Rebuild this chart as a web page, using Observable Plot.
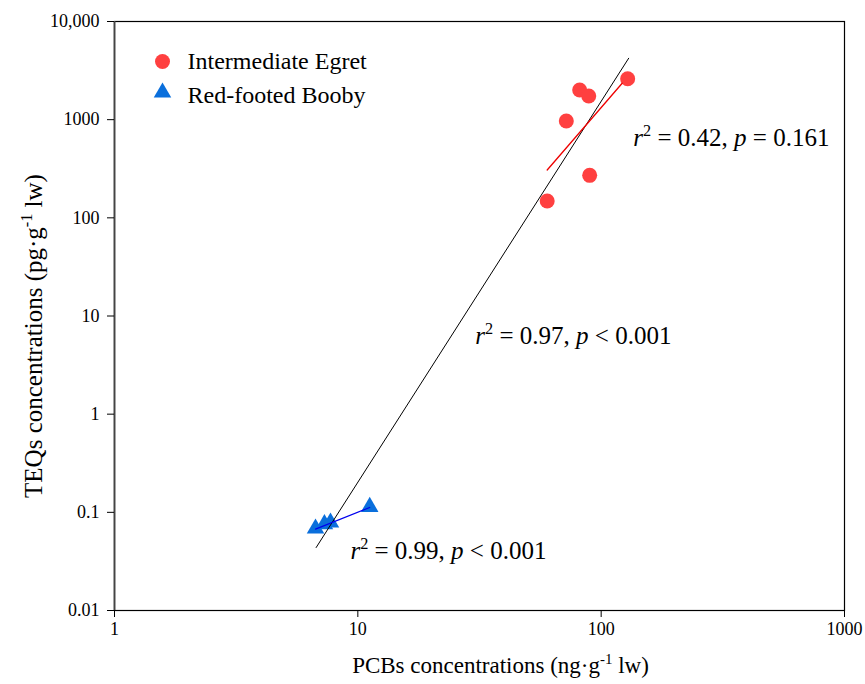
<!DOCTYPE html>
<html><head><meta charset="utf-8">
<script src="https://cdn.jsdelivr.net/npm/d3@7"></script>
<script src="https://cdn.jsdelivr.net/npm/@observablehq/plot@0.6"></script>
<style>body{margin:0;background:#fff}</style>
</head><body><div id="chart"></div>
<script>
// Data
const egretPCB = [128.5, 81.6, 88.9, 71.9, 89.7, 60.0];
const egretTEQ = [2614, 2006, 1742, 970, 271, 148.6];
const boobyPCB = [6.70, 7.29, 7.72, 11.19];
const boobyTEQ = [0.0684, 0.0759, 0.0787, 0.1138];
// Regression lines (end points)
const allFitPCB = [6.74, 129.7];
const allFitTEQ = [0.0438, 4220];
const egretFitPCB = [60, 122];
const egretFitTEQ = [307, 2349];
const boobyFitPCB = [6.70, 11.19];
const boobyFitTEQ = [0.0675, 0.112];
// Ticks
const xTicks = [1, 10, 100, 1000];
const xTickLabels = ["1", "10", "100", "1000"];
const yTicks = [0.01, 0.1, 1, 10, 100, 1000, 10000];
const yTickLabels = ["0.01", "0.1", "1", "10", "100", "1000", "10,000"];
const seriesNames = ["Intermediate Egret", "Red-footed Booby"];
const annLabels = ["*r*^{2} = 0.42, *p* = 0.161", "*r*^{2} = 0.97, *p* < 0.001", "*r*^{2} = 0.99, *p* < 0.001"];
const annX = [135.6, 30.4, 9.32];
const annY = [651, 6.27, 0.0406];
const xLabel = "PCBs concentrations (ng·g^{-1} lw)";
const yLabel = "TEQs concentrations (pg·g^{-1} lw)";

const zip = (xs, ys) => xs.map((x, i) => ({x, y: ys[i]}));
const egret = zip(egretPCB, egretTEQ);
const booby = zip(boobyPCB, boobyTEQ);
const allFit = zip(allFitPCB, allFitTEQ);
const egretFit = zip(egretFitPCB, egretFitTEQ);
const boobyFit = zip(boobyFitPCB, boobyFitTEQ);
const anns = annLabels.map((label, i) => ({label, x: annX[i], y: annY[i]}));

const RED = "#ff4040", BLUE = "#0a6fdc";
const FONT = "'Liberation Serif','Times New Roman',serif";

const chart = Plot.plot({
  width: 865, height: 684,
  marginLeft: 114, marginRight: 21, marginTop: 21, marginBottom: 74,
  style: {fontFamily: FONT, fontSize: "18px", background: "#fff", color: "#000"},
  x: {type: "log", domain: [1, 1000]},
  y: {type: "log", domain: [0.01, 10000]},
  marks: [
    Plot.frame({stroke: "#000", strokeWidth: 1.2}),
    Plot.ruleX([1], {stroke: "#444", strokeWidth: 1.8}),
    Plot.axisX({ticks: xTicks, tickSize: 7, tickPadding: 5, tickFormat: d => xTickLabels[xTicks.indexOf(d)], label: null}),
    Plot.axisY({ticks: yTicks, tickSize: 7, tickPadding: 8, tickFormat: d => yTickLabels[yTicks.indexOf(d)], label: null}),
    Plot.dot(egret, {x: "x", y: "y", r: 7.5, fill: RED, symbol: "circle"}),
    Plot.dot(booby, {x: "x", y: "y", r: 6.5, fill: BLUE, symbol: "triangle"}),
    Plot.line(allFit, {x: "x", y: "y", stroke: "#000", strokeWidth: 1}),
    Plot.line(egretFit, {x: "x", y: "y", stroke: "#ee0000", strokeWidth: 1.3}),
    Plot.line(boobyFit, {x: "x", y: "y", stroke: "#0000ee", strokeWidth: 1.3}),
    Plot.text(anns, {x: "x", y: "y", text: "label", textAnchor: "start", lineAnchor: "middle", fontSize: 25}),
    // legend
    Plot.dot([seriesNames[0]], {frameAnchor: "top-left", dx: 48, dy: 40, r: 7.5, fill: RED, symbol: "circle"}),
    Plot.dot([seriesNames[1]], {frameAnchor: "top-left", dx: 48, dy: 71, r: 6.5, fill: BLUE, symbol: "triangle"}),
    Plot.text([seriesNames[0]], {frameAnchor: "top-left", dx: 73, dy: 40, text: d => d, textAnchor: "start", lineAnchor: "middle", fontSize: 24}),
    Plot.text([seriesNames[1]], {frameAnchor: "top-left", dx: 73, dy: 74, text: d => d, textAnchor: "start", lineAnchor: "middle", fontSize: 24}),
    // axis titles
    Plot.text([xLabel], {frameAnchor: "bottom", dx: 21, dy: 55, text: d => d, textAnchor: "middle", lineAnchor: "middle", fontSize: 23}),
    Plot.text([yLabel], {frameAnchor: "left", dx: -81, dy: 20, rotate: -90, text: d => d, textAnchor: "middle", lineAnchor: "middle", fontSize: 25})
  ]
});

// rich text: *italic* and ^{superscript}
d3.select(chart).selectAll("text").each(function() {
  const t = this.textContent;
  if (!/[\^*]/.test(t)) return;
  const fsAttr = this.getAttribute("font-size") || (this.parentNode && this.parentNode.getAttribute("font-size"));
  const fs = parseFloat(fsAttr) || 23;
  const parts = t.split(/(\*[^*]+\*|\^\{[^}]+\})/).filter(p => p);
  const el = d3.select(this);
  el.text("");
  let shifted = false;
  parts.forEach(p => {
    if (p.startsWith("^{")) {
      el.append("tspan").attr("font-size", fs * 0.65).attr("dy", -fs * 0.4).text(p.slice(2, -1));
      shifted = true;
    } else {
      const ts = el.append("tspan");
      if (shifted) { ts.attr("dy", fs * 0.4); shifted = false; }
      if (p.startsWith("*")) ts.attr("font-style", "italic").text(p.slice(1, -1));
      else ts.text(p);
    }
  });
});

document.getElementById("chart").appendChild(chart);
</script>
</body></html>
